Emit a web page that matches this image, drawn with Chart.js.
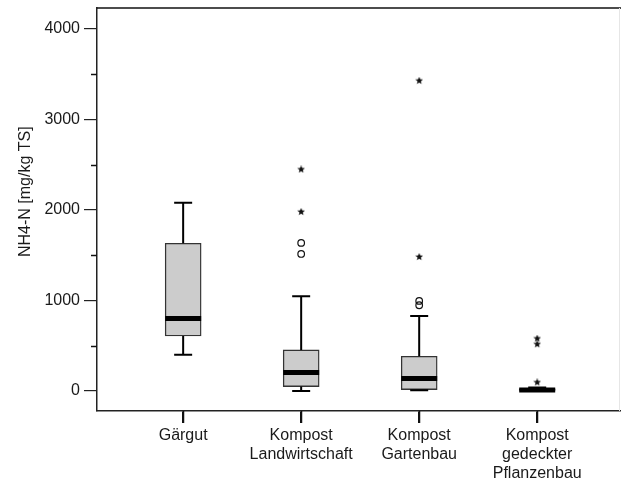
<!DOCTYPE html>
<html>
<head>
<meta charset="utf-8">
<script src="https://cdn.jsdelivr.net/npm/chart.js@4"></script>
<style>
  html, body { margin: 0; padding: 0; background: #fff; }
  #wrap { width: 621px; height: 483px; }
</style>
</head>
<body>
<div id="wrap"><canvas id="c" width="621" height="483"></canvas></div>
<script>
// Kategorien (x-Achse)
const categories = [
  ['Gärgut'],
  ['Kompost', 'Landwirtschaft'],
  ['Kompost', 'Gartenbau'],
  ['Kompost', 'gedeckter', 'Pflanzenbau'],
];

// Boxplot-Kennwerte je Kategorie (mg/kg TS)
const whiskerLow  = [400,   0,   8,  0];
const q1          = [608,  49,  15,  0];
const median      = [801, 204, 137, 11];
const q3          = [1633, 454, 384, 25];
const whiskerHigh = [2080, 1048, 830, 40];

// Ausreißer (Kreis) und Extremwerte (Stern)
const outlierCat  = [1, 1, 2, 2];
const outlierVal  = [1637, 1515, 996, 948];
const extremeCat  = [1, 1, 2, 2, 3, 3, 3];
const extremeVal  = [2449, 1980, 3429, 1482, 580, 517, 96];

const xTicks = [0, 1, 2, 3];
const yTicks = [0, 1000, 2000, 3000, 4000];
const yMinor = [500, 1500, 2500, 3500];

const FONT = '"Liberation Sans", Arial, sans-serif';
const INK = '#1a1a1a';

// kleiner gefüllter Stern als Punktsymbol
function starIcon(size) {
  const cv = document.createElement('canvas');
  cv.width = size; cv.height = size;
  const g = cv.getContext('2d');
  const cx = size / 2, cy = size / 2, ro = size / 2, ri = ro * 0.45;
  g.beginPath();
  for (let i = 0; i < 10; i++) {
    const r = i % 2 === 0 ? ro : ri;
    const a = -Math.PI / 2 + i * Math.PI / 5;
    g.lineTo(cx + r * Math.cos(a), cy + r * Math.sin(a));
  }
  g.closePath();
  g.fillStyle = '#111';
  g.fill();
  return cv;
}

// Whisker und Mediane über die Skalen zeichnen
const boxExtras = {
  id: 'boxExtras',
  afterDatasetsDraw(chart) {
    const { ctx, scales: { x, y } } = chart;
    const bars = chart.getDatasetMeta(0).data;
    ctx.save();
    ctx.strokeStyle = '#000';
    ctx.lineWidth = 2;
    bars.forEach((bar, i) => {
      const cx = x.getPixelForValue(i);
      const cap = bar.width / 2;
      const pairs = [[q3[i], whiskerHigh[i]], [q1[i], whiskerLow[i]]];
      pairs.forEach(([from, to]) => {
        if (to === from) return;
        ctx.beginPath();
        ctx.moveTo(cx, y.getPixelForValue(from));
        ctx.lineTo(cx, y.getPixelForValue(to));
        ctx.moveTo(cx - cap / 2, y.getPixelForValue(to));
        ctx.lineTo(cx + cap / 2, y.getPixelForValue(to));
        ctx.stroke();
      });
    });
    // Mediane
    ctx.lineWidth = 5;
    ctx.lineCap = 'butt';
    bars.forEach((bar, i) => {
      const my = y.getPixelForValue(median[i]);
      ctx.beginPath();
      ctx.moveTo(bar.x - bar.width / 2, my);
      ctx.lineTo(bar.x + bar.width / 2, my);
      ctx.stroke();
    });
    ctx.restore();
  },
  // Achsenstriche und Rahmen ganz zum Schluss
  afterDraw(chart) {
    const { ctx, scales: { x, y }, chartArea } = chart;
    ctx.save();
    ctx.strokeStyle = '#111';
    ctx.lineWidth = 1.5;
    yMinor.forEach(v => {
      const py = Math.round(y.getPixelForValue(v)) + 0.5;
      ctx.beginPath();
      ctx.moveTo(chartArea.left - 6, py);
      ctx.lineTo(chartArea.left, py);
      ctx.stroke();
    });
    xTicks.forEach(v => {
      const px = Math.round(x.getPixelForValue(v)) + 0.5;
      ctx.beginPath();
      ctx.moveTo(px, chartArea.bottom);
      ctx.lineTo(px, chartArea.bottom + 12);
      ctx.stroke();
    });
    ctx.beginPath();
    ctx.moveTo(chartArea.left, chartArea.top);
    ctx.lineTo(chartArea.right, chartArea.top);
    ctx.stroke();
    ctx.strokeStyle = '#e6e6e6';
    ctx.lineWidth = 1;
    ctx.beginPath();
    ctx.moveTo(chartArea.right - 1.5, chartArea.top);
    ctx.lineTo(chartArea.right - 1.5, chartArea.bottom);
    ctx.stroke();
    ctx.restore();
  }
};

new Chart(document.getElementById('c').getContext('2d'), {
  type: 'bar',
  data: {
    datasets: [
      {
        type: 'bar',
        data: xTicks.map(i => ({ x: i, y: [q1[i], q3[i]] })),
        backgroundColor: '#cccccc',
        borderColor: '#333333',
        borderWidth: 1.4,
        borderSkipped: false,
        barThickness: 36,
        order: 2,
      },
      {
        type: 'scatter',
        data: outlierVal.map((v, i) => ({ x: outlierCat[i], y: v })),
        pointStyle: 'circle',
        pointRadius: 3.3,
        borderColor: '#111',
        borderWidth: 1.2,
        backgroundColor: 'rgba(255,255,255,0)',
        order: 1,
      },
      {
        type: 'scatter',
        data: extremeVal.map((v, i) => ({ x: extremeCat[i], y: v })),
        pointStyle: starIcon(8),
        pointRadius: 4,
        order: 1,
      },
    ]
  },
  options: {
    responsive: false,
    animation: false,
    events: [],
    layout: { autoPadding: false, padding: { left: 0, right: 0, top: 8, bottom: 0 } },
    plugins: { legend: { display: false }, tooltip: { enabled: false } },
    scales: {
      x: {
        type: 'linear',
        min: -0.73,
        max: 3.71,
        offset: false,
        afterBuildTicks: s => { s.ticks = xTicks.map(v => ({ value: v })); },
        afterFit: s => { s.height = 72; },
        grid: { drawOnChartArea: false, drawTicks: true, tickLength: 12, offset: false, color: '#111', lineWidth: 1.5 },
        border: { display: true, color: '#222', width: 1.5 },
        ticks: {
          color: INK,
          font: { family: FONT, size: 16, lineHeight: 1.2 },
          padding: 3,
          maxRotation: 0,
          autoSkip: false,
          callback: v => categories[v],
        },
      },
      y: {
        min: -221,
        max: 4233,
        afterBuildTicks: s => { s.ticks = yTicks.map(v => ({ value: v })); },
        afterFit: s => { s.width = 97; s.paddingTop = 0; s.paddingBottom = 0; },
        grid: { drawOnChartArea: false, tickLength: 13, color: '#222', lineWidth: 1.2 },
        border: { display: true, color: '#222', width: 1.5 },
        title: {
          display: true,
          text: '        NH4-N [mg/kg TS]',
          color: INK,
          font: { family: FONT, size: 16 },
          padding: { top: 16, bottom: 4 },
        },
        ticks: {
          color: INK,
          font: { family: FONT, size: 16 },
          padding: 4,
          callback: v => String(v),
        },
      },
    }
  },
  plugins: [boxExtras]
});
</script>
</body>
</html>
